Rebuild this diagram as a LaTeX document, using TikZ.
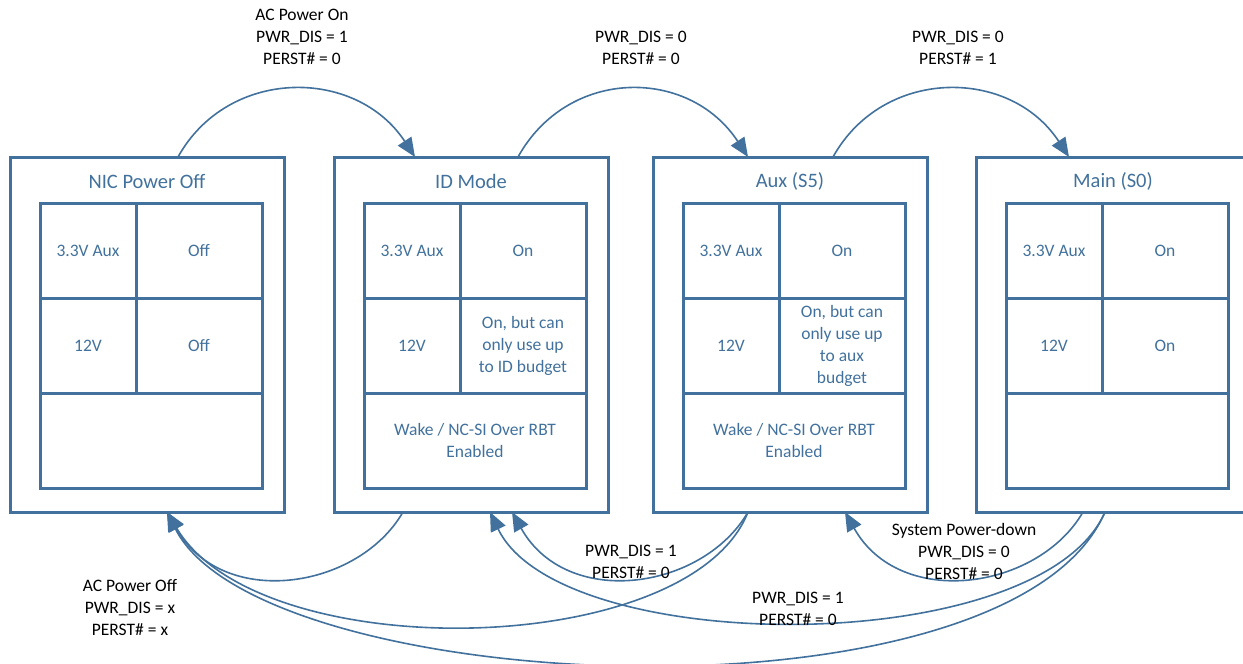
\documentclass[tikz,border=0pt]{standalone}
\usepackage{fontspec}
\setmainfont{Carlito}
\usetikzlibrary{positioning,calc,arrows.meta}
\definecolor{nicblue}{HTML}{41719C}
\tikzset{
  statebox/.style={draw=nicblue, line width=3pt, minimum width=274pt, minimum height=355pt, inner sep=0pt, outer sep=0pt},
  boxtitle/.style={text=nicblue, font=\fontsize{20.5}{24}\selectfont},
  cellbase/.style={draw=nicblue, line width=3pt, inner sep=0pt, outer sep=0pt, minimum height=95pt, text=nicblue, align=center, font=\fontsize{17.5}{22}\selectfont},
  cellnarrow/.style={cellbase, minimum width=96pt},
  cellwide/.style={cellbase, minimum width=126pt},
  cellfull/.style={cellbase, minimum width=222pt},
  trans/.style={draw=nicblue, line width=1.6pt, -{Triangle[length=19pt,width=16pt]}},
  translabel/.style={align=center, font=\fontsize{17.5}{22}\selectfont}
}
\begin{document}
\begin{tikzpicture}[x=1pt, y=-1pt]
            \clip (0,0) rectangle (1243,664);
            \node[statebox] (off) at (147,334.5) {};
            \node[boxtitle] (off-title) at ($(off.north)+(0,24)$) {NIC Power Off};
            \node[cellnarrow, anchor=north west] (off-aux) at ($(off.north west)+(30,46)$) {3.3V Aux};
            \node[cellwide, right=0pt of off-aux] (off-auxval) {Off};
            \node[cellnarrow, below=0pt of off-aux] (off-12v) {12V};
            \node[cellwide, below=0pt of off-auxval] (off-12vval) {Off};
            \node[cellfull, anchor=north west] (off-wake) at (off-12v.south west) {};

            \node[statebox] (idm) at (471,334.5) {};
            \node[boxtitle] (idm-title) at ($(idm.north)+(0,24)$) {ID Mode};
            \node[cellnarrow, anchor=north west] (idm-aux) at ($(idm.north west)+(30,46)$) {3.3V Aux};
            \node[cellwide, right=0pt of idm-aux] (idm-auxval) {On};
            \node[cellnarrow, below=0pt of idm-aux] (idm-12v) {12V};
            \node[cellwide, below=0pt of idm-auxval] (idm-12vval) {On, but can\\only use up\\to ID budget};
            \node[cellfull, anchor=north west] (idm-wake) at (idm-12v.south west) {Wake / NC-SI Over RBT\\Enabled};

            \node[statebox] (aux) at (790,334.5) {};
            \node[boxtitle] (aux-title) at ($(aux.north)+(0,24)$) {Aux (S5)};
            \node[cellnarrow, anchor=north west] (aux-aux) at ($(aux.north west)+(30,46)$) {3.3V Aux};
            \node[cellwide, right=0pt of aux-aux] (aux-auxval) {On};
            \node[cellnarrow, below=0pt of aux-aux] (aux-12v) {12V};
            \node[cellwide, below=0pt of aux-auxval] (aux-12vval) {On, but can\\only use up\\to aux\\budget};
            \node[cellfull, anchor=north west] (aux-wake) at (aux-12v.south west) {Wake / NC-SI Over RBT\\Enabled};

            \node[statebox] (main) at (1113,334.5) {};
            \node[boxtitle] (main-title) at ($(main.north)+(0,24)$) {Main (S0)};
            \node[cellnarrow, anchor=north west] (main-aux) at ($(main.north west)+(30,46)$) {3.3V Aux};
            \node[cellwide, right=0pt of main-aux] (main-auxval) {On};
            \node[cellnarrow, below=0pt of main-aux] (main-12v) {12V};
            \node[cellwide, below=0pt of main-auxval] (main-12vval) {On};
            \node[cellfull, anchor=north west] (main-wake) at (main-12v.south west) {};

            \coordinate (off-top) at ($(off.north west)+(168,0)$);
            \coordinate (off-in) at ($(off.south west)+(157,0)$);
            \coordinate (idm-in) at ($(idm.north west)+(81,0)$);
            \coordinate (idm-top) at ($(idm.north west)+(184,0)$);
            \coordinate (idm-out) at ($(idm.south west)+(69,0)$);
            \coordinate (idm-in1) at ($(idm.south west)+(156,0)$);
            \coordinate (idm-in2) at ($(idm.south west)+(178,0)$);
            \coordinate (aux-in) at ($(aux.north west)+(95,0)$);
            \coordinate (aux-top) at ($(aux.north west)+(180,0)$);
            \coordinate (aux-out) at ($(aux.south west)+(95,0)$);
            \coordinate (aux-in2) at ($(aux.south west)+(192,0)$);
            \coordinate (main-in) at ($(main.north west)+(93,0)$);
            \coordinate (main-out1) at ($(main.south west)+(107,0)$);
            \coordinate (main-out2) at ($(main.south west)+(129,0)$);

            \draw[trans] (off-top) .. controls +(50,-90) and +(-59,-90) .. (idm-in);
            \draw[trans] (idm-top) .. controls +(50,-90) and +(-59,-90) .. (aux-in);
            \draw[trans] (aux-top) .. controls +(50,-90) and +(-59,-90) .. (main-in);
            \draw[trans] (idm-out) .. controls +(-45,78) and +(55,98) .. (off-in);
            \draw[trans] (aux-out) .. controls +(-45,78) and +(55,98) .. (idm-in2);
            \draw[trans] (main-out1) .. controls +(-45,78) and +(55,98) .. (aux-in2);
            \draw[trans] (aux-out) .. controls +(-58,148) and +(93,156) .. (off-in);
            \draw[trans] (main-out2) .. controls +(-65,148) and +(70,146) .. (idm-in1);
            \draw[trans] (main-out2) .. controls +(-95,220) and +(93,186) .. (off-in);

            \node[translabel] (lbl-acon) at (302,37) {AC Power On\\PWR\_DIS = 1\\PERST\# = 0};
            \node[translabel] (lbl-toaux) at (641,48) {PWR\_DIS = 0\\PERST\# = 0};
            \node[translabel] (lbl-tomain) at (958,48) {PWR\_DIS = 0\\PERST\# = 1};
            \node[translabel] (lbl-acoff) at (130,608) {AC Power Off\\PWR\_DIS = x\\PERST\# = x};
            \node[translabel] (lbl-auxid) at (631,561.5) {PWR\_DIS = 1\\PERST\# = 0};
            \node[translabel] (lbl-mainid) at (798,609) {PWR\_DIS = 1\\PERST\# = 0};
            \node[translabel] (lbl-down) at (964,551) {System Power-down\\PWR\_DIS = 0\\PERST\# = 0};
\end{tikzpicture}
\end{document}
